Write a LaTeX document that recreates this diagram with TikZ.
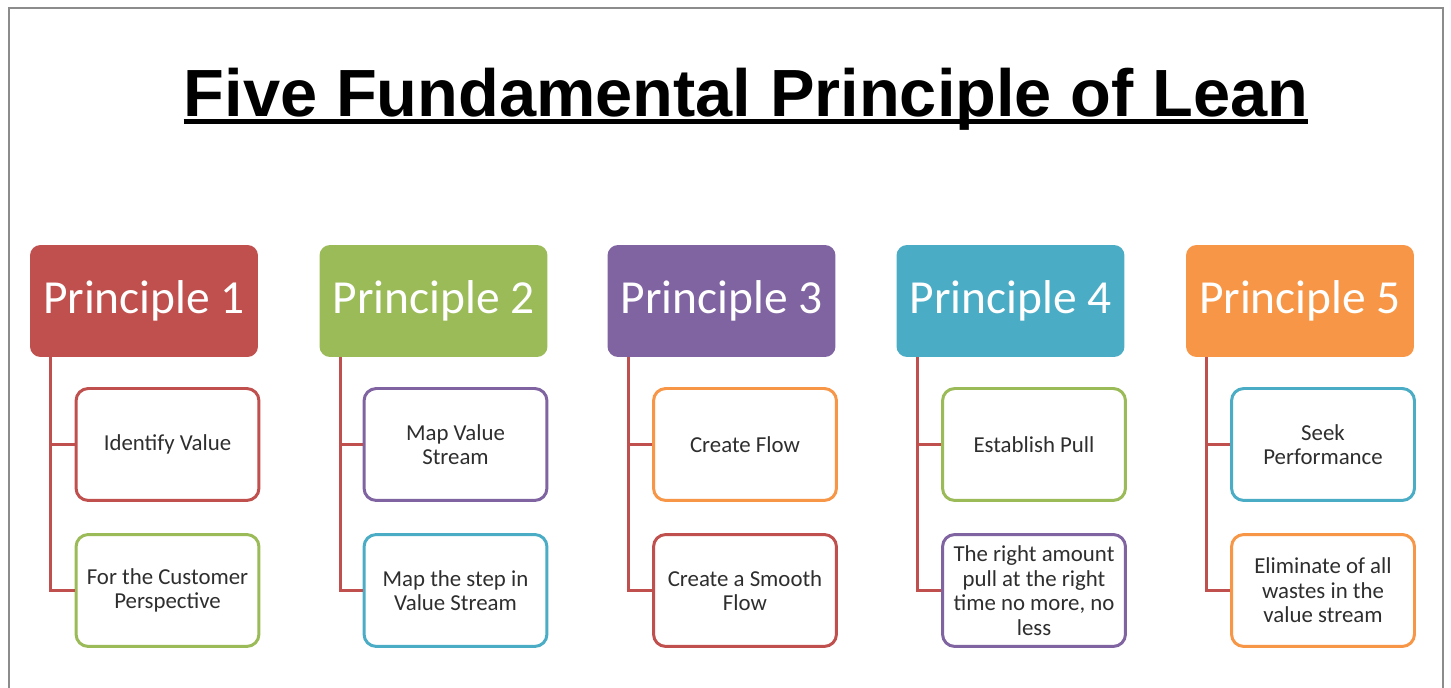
\documentclass[tikz,border=0pt]{standalone}
\usepackage{fontspec}
\setmainfont{Carlito}
\newfontfamily\titlefont{Liberation Sans}
\definecolor{leanred}{RGB}{192, 80, 77}
\definecolor{leangreen}{RGB}{155, 187, 89}
\definecolor{leanviolet}{RGB}{128, 100, 162}
\definecolor{leanaqua}{RGB}{75, 172, 198}
\definecolor{leanorange}{RGB}{247, 150, 70}
\definecolor{framegray}{RGB}{140, 140, 140}
\usetikzlibrary{positioning, calc}

\tikzset{
  principle/.style={fill=#1, rounded corners=6pt, minimum width=4.56cm, minimum height=2.24cm,
    inner sep=0pt, text=white, font=\fontsize{27}{30}\selectfont},
  practice/.style={draw=#1, fill=white, line width=1.7pt, rounded corners=7pt, minimum width=3.66cm,
    minimum height=2.24cm, inner sep=2pt, align=center, text=black!82, font=\fontsize{13}{14}\selectfont},
  link/.style={draw=leanred, line width=1.7pt},
}

\begin{document}
\begin{tikzpicture}[x=0.02cm, y=-0.02cm]
  \useasboundingbox (0,0) rectangle (1451,688);
  \draw[framegray, line width=0.9pt] (9,688) -- (9,8) -- (1443,8) -- (1443,688);

  % Title
  \node[anchor=base, inner sep=0pt, font=\titlefont\bfseries\fontsize{38}{40}\selectfont] (title) at (746,117) {Five Fundamental Principle of Lean};
  \draw[line width=2.3pt] ([yshift=-0.09cm]title.base west) -- ([yshift=-0.09cm]title.base east);

  % Principle headers
  \node[principle=leanred] (p1) at (144,301) {Principle 1};
  \node[principle=leangreen] (p2) at (433.5,301) {Principle 2};
  \node[principle=leanviolet] (p3) at (721.5,301) {Principle 3};
  \node[principle=leanaqua] (p4) at (1010.5,301) {Principle 4};
  \node[principle=leanorange] (p5) at (1300,301) {Principle 5};

  % First row of practices
  \node[practice=leanred] (p1a) at (167.5,444.5) {Identify Value};
  \node[practice=leanviolet] (p2a) at (455.5,444.5) {Map Value\\Stream};
  \node[practice=leanorange] (p3a) at (745,444.5) {Create Flow};
  \node[practice=leangreen] (p4a) at (1034,444.5) {Establish Pull};
  \node[practice=leanaqua] (p5a) at (1323,444.5) {Seek\\Performance};

  % Second row of practices
  \node[practice=leangreen] (p1b) at (167.5,590.5) {For the Customer\\Perspective};
  \node[practice=leanaqua] (p2b) at (455.5,590.5) {Map the step in\\Value Stream};
  \node[practice=leanred] (p3b) at (745,590.5) {Create a Smooth\\Flow};
  \node[practice=leanviolet] (p4b) at (1034,590.5) {The right amount\\pull at the right\\time no more, no\\less};
  \node[practice=leanorange] (p5b) at (1323,590.5) {Eliminate of all\\wastes in the\\value stream};

  % Connectors
  \draw[link] ([xshift=0.42cm]p1.south west) |- (p1a.west);
  \draw[link] ([xshift=0.42cm]p1.south west) |- (p1b.west);
  \draw[link] ([xshift=0.42cm]p2.south west) |- (p2a.west);
  \draw[link] ([xshift=0.42cm]p2.south west) |- (p2b.west);
  \draw[link] ([xshift=0.42cm]p3.south west) |- (p3a.west);
  \draw[link] ([xshift=0.42cm]p3.south west) |- (p3b.west);
  \draw[link] ([xshift=0.42cm]p4.south west) |- (p4a.west);
  \draw[link] ([xshift=0.42cm]p4.south west) |- (p4b.west);
  \draw[link] ([xshift=0.42cm]p5.south west) |- (p5a.west);
  \draw[link] ([xshift=0.42cm]p5.south west) |- (p5b.west);
\end{tikzpicture}
\end{document}
